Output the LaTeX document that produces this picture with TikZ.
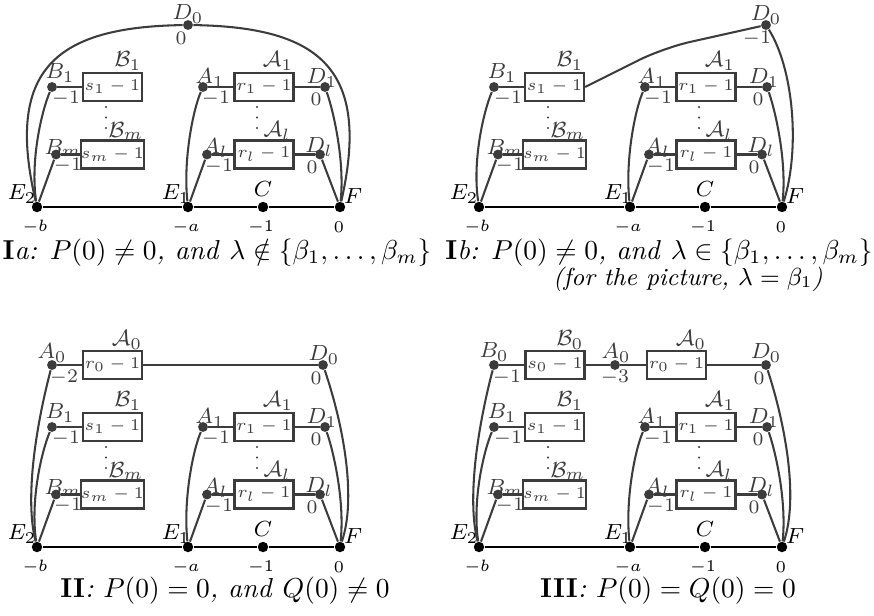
\documentclass[tikz,border=0pt]{standalone}
\usepackage{amsmath,amssymb}
\definecolor{gcol}{RGB}{60,60,60}
\newcommand\sharedpart[1]{%
  \node[bdot] (#1E2) at (37,207) {};
  \node[bdot] (#1E1) at (188,207) {};
  \node[bdot] (#1C) at (263,207) {};
  \node[bdot] (#1F) at (340,207) {};
  \draw[bline] (#1E2) -- (#1E1) -- (#1C) -- (#1F);
  \node[gdot] (#1B1) at (52,87) {};
  \node[wbox] (#1s1) at (112.5,87) {$s_1-1$};
  \node[gdot] (#1Bm) at (56,154.5) {};
  \node[wbox] (#1sm) at (112.5,154.5) {$s_m-1$};
  \node[gdot] (#1A1) at (203,87) {};
  \node[wbox] (#1r1) at (264,87) {$r_1-1$};
  \node[gdot] (#1D1) at (325,87) {};
  \node[gdot] (#1Al) at (207,154.5) {};
  \node[wbox] (#1rl) at (264,154.5) {$r_l-1$};
  \node[gdot] (#1Dl) at (320,154.5) {};
  \draw[gline] (#1B1) -- (#1s1);
  \draw[gline] (#1Bm) -- (#1sm);
  \draw[gline] (#1A1) -- (#1r1) -- (#1D1);
  \draw[gline] (#1Al) -- (#1rl) -- (#1Dl);
  \draw[gline] (#1B1) .. controls (42,110) and (30,160) .. (#1E2);
  \draw[gline] (#1Bm) -- (#1E2);
  \draw[gline] (#1A1) .. controls (193,110) and (183,160) .. (#1E1);
  \draw[gline] (#1Al) -- (#1E1);
  \draw[gline] (#1D1) .. controls (333,110) and (345,160) .. (#1F);
  \draw[gline] (#1Dl) -- (#1F);
  \foreach \yy in {107,117.5,128} {
    \fill[gcol] (106,\yy) circle (0.45pt);
    \fill[gcol] (257,\yy) circle (0.45pt);
  }
  \node[nm] (#1nB1) at (60,73) {$B_1$};
  \node[wt] (#1wB1) at (66,98) {$-1$};
  \node[nm] (#1nBm) at (63,148) {$B_m$};
  \node[wt] (#1wBm) at (68,165) {$-1$};
  \node[nm] (#1cB1) at (128,61) {$\mathcal{B}_1$};
  \node[nm] (#1cBm) at (126,131) {$\mathcal{B}_m$};
  \node[nm] (#1nA1) at (210,78) {$A_1$};
  \node[wt] (#1wA1) at (216,98) {$-1$};
  \node[nm] (#1cA1) at (278,61) {$\mathcal{A}_1$};
  \node[nm] (#1nD1) at (322,78) {$D_1$};
  \node[wt] (#1wD1) at (316,99) {$0$};
  \node[nm] (#1nAl) at (215,148) {$A_l$};
  \node[wt] (#1wAl) at (219,166) {$-1$};
  \node[nm] (#1cAl) at (277,131) {$\mathcal{A}_l$};
  \node[nm] (#1nDl) at (319,147) {$D_l$};
  \node[wt] (#1wDl) at (312,167) {$0$};
  \node[bn] (#1nE2) at (22,194) {$E_2$};
  \node[bn] (#1nE1) at (176,194) {$E_1$};
  \node[bn] (#1nC) at (263,189) {$C$};
  \node[bn] (#1nF) at (353,196) {$F$};
  \node[tk] (#1tb) at (35,227) {$-b$};
  \node[tk] (#1ta) at (186,227) {$-a$};
  \node[tk] (#1tm) at (261,227) {$-1$};
  \node[tk] (#1tz) at (339,227) {$0$};
}
\begin{document}
\begin{tikzpicture}[x=0.365pt,y=-0.365pt,
  gline/.style={draw=gcol,line width=0.75pt},
  bline/.style={draw=black,line width=1pt},
  gdot/.style={circle,fill=gcol,inner sep=0pt,minimum size=3.6pt},
  bdot/.style={circle,fill=black,inner sep=0pt,minimum size=3.8pt},
  wbox/.style={draw=gcol,line width=0.9pt,minimum width=21.5pt,minimum height=10.2pt,inner sep=0pt,font=\fontsize{6.3}{7}\selectfont,text=gcol},
  nm/.style={font=\footnotesize,text=gcol,inner sep=0pt},
  wt/.style={font=\scriptsize,text=gcol,inner sep=0pt},
  bn/.style={font=\footnotesize,inner sep=0pt},
  tk/.style={font=\fontsize{6}{7}\selectfont,inner sep=0pt},
  captxt/.style={inner sep=0pt,anchor=base}]
\useasboundingbox (0,0) rectangle (874,615);
% Panel Ia
\begin{scope}
  \sharedpart{a}
  \node[gdot] (aD0) at (188,25) {};
  \draw[gline] (aE2) .. controls (5,70) and (55,27) .. (aD0);
  \draw[gline] (aD0) .. controls (321,27) and (371,70) .. (aF);
  \node[nm] (anD0) at (188,14) {$D_0$};
  \node[wt] (awD0) at (181,38) {$0$};
\end{scope}
% Panel Ib
\begin{scope}[shift={(442,0)}]
  \sharedpart{b}
  \node[gdot] (bD0) at (324,25) {};
  \draw[gline,rounded corners=10pt] (bs1.east) -- (221,48) -- (bD0);
  \draw[gline] (bD0) .. controls (352,70) and (358,150) .. (bF);
  \node[nm] (bnD0) at (324,15) {$D_0$};
  \node[wt] (bwD0) at (315,38) {$-1$};
\end{scope}
% Panel II
\begin{scope}[shift={(0,340)}]
  \sharedpart{c}
  \node[gdot] (cA0) at (52,25) {};
  \node[wbox] (cr0) at (112.5,25) {$r_0-1$};
  \node[gdot] (cD0) at (323,25) {};
  \draw[gline] (cA0) -- (cr0) -- (cD0);
  \draw[gline] (cA0) .. controls (35,90) and (25,160) .. (cE2);
  \draw[gline] (cD0) .. controls (345,90) and (356,160) .. (cF);
  \node[nm] (cnA0) at (52,13) {$A_0$};
  \node[wt] (cwA0) at (64,37) {$-2$};
  \node[nm] (ccA0) at (127,0) {$\mathcal{A}_0$};
  \node[nm] (cnD0) at (324,15) {$D_0$};
  \node[wt] (cwD0) at (316,38) {$0$};
\end{scope}
% Panel III
\begin{scope}[shift={(442,340)}]
  \sharedpart{d}
  \node[gdot] (dB0) at (52,25) {};
  \node[wbox] (ds0) at (113,25) {$s_0-1$};
  \node[gdot] (dA0) at (173,25) {};
  \node[wbox] (dr0) at (234.5,25) {$r_0-1$};
  \node[gdot] (dD0) at (324,25) {};
  \draw[gline] (dB0) -- (ds0) -- (dA0) -- (dr0) -- (dD0);
  \draw[gline] (dB0) .. controls (35,90) and (25,160) .. (dE2);
  \draw[gline] (dD0) .. controls (345,90) and (356,160) .. (dF);
  \node[nm] (dnB0) at (52,12) {$B_0$};
  \node[wt] (dwB0) at (65,37) {$-1$};
  \node[nm] (dcB0) at (128,0) {$\mathcal{B}_0$};
  \node[nm] (dnA0) at (174,13) {$A_0$};
  \node[wt] (dwA0) at (173,37) {$-3$};
  \node[nm] (dcA0) at (249,0) {$\mathcal{A}_0$};
  \node[nm] (dnD0) at (324,13) {$D_0$};
  \node[wt] (dwD0) at (317,38) {$0$};
\end{scope}
% Captions
\node[captxt] (capIa) at (217,259) {\textbf{I}\textit{a: }$P(0)\neq 0$\textit{, and }$\lambda\notin\{\beta_1,\ldots,\beta_m\}$};
\node[captxt] (capIb) at (659,259) {\textbf{I}\textit{b: }$P(0)\neq 0$\textit{, and }$\lambda\in\{\beta_1,\ldots,\beta_m\}$};
\node[captxt] (capIb2) at (688,285) {\small\textit{(for the picture, }$\lambda=\beta_1$\textit{)}};
\node[captxt] (capII) at (225,597) {\textbf{II}\textit{: }$P(0)=0$\textit{, and }$Q(0)\neq 0$};
\node[captxt] (capIII) at (668,597) {\textbf{III}\textit{: }$P(0)=Q(0)=0$};
\end{tikzpicture}
\end{document}
